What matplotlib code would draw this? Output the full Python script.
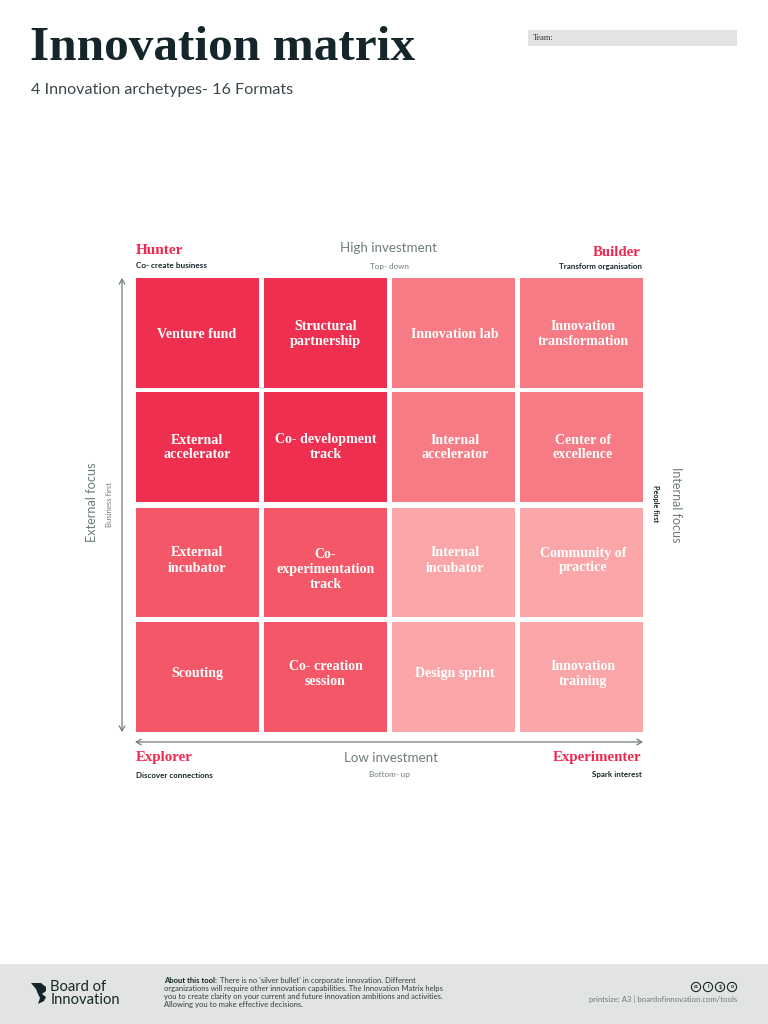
import matplotlib
matplotlib.use("Agg")
import matplotlib.pyplot as plt
from matplotlib.patches import Rectangle, Polygon, Circle

# matrix content, top row first
formats = [
    ["Venture fund", "Structural\npartnership", "Innovation lab", "Innovation\ntransformation"],
    ["External\naccelerator", "Co- development\ntrack", "Internal\naccelerator", "Center of\nexcellence"],
    ["External\nincubator", "Co-\nexperimentation\ntrack", "Internal\nincubator", "Community of\npractice"],
    ["Scouting", "Co- creation\nsession", "Design sprint", "Innovation\ntraining"],
]
levels = [
    [0, 0, 1, 1],
    [0, 0, 1, 1],
    [2, 2, 3, 3],
    [2, 2, 3, 3],
]
level_colors = ["#EE2F50", "#F67B84", "#F45767", "#FAA5A8"]

x_edges = [(136, 259), (264, 387), (392, 515), (520, 643)]
y_edges = [(278, 388), (392, 502), (508, 617), (622, 732)]
# the labels do not sit quite centred in the reference
row_shift = [1, 0.5, -2, -3]
col_shift = [-0.5, 0, 1.5, 1.5]

SERIF = "Liberation Serif"
SANS = "Lato"
DARK = "#14262A"
GREY = "#6E7B7D"
RED = "#F0284F"
PANEL = "#E2E4E1"

fig = plt.figure(figsize=(7.68, 10.24), dpi=100)
ax = fig.add_axes([0, 0, 1, 1])
ax.set_xlim(0, 768)
ax.set_ylim(1024, 0)
ax.axis("off")

# header
ax.text(30, 48, "Innovation matrix", family=SERIF, weight="bold", fontsize=35.5,
        color=DARK, va="center", ha="left")
ax.text(31, 90, "4 Innovation archetypes- 16 Formats", family=SANS, fontsize=11.6,
        color="#3A484B", va="center", ha="left")
ax.add_patch(Rectangle((528, 30), 209, 16, color=PANEL, lw=0))
ax.text(533, 37.5, "Team:", family=SERIF, fontsize=6, color="#333333", va="center")

# cells
for r, (y0, y1) in enumerate(y_edges):
    for c, (x0, x1) in enumerate(x_edges):
        label = formats[r][c]
        shift = row_shift[r]
        if label.count("\n") == 2:
            shift = 7
        ax.add_patch(Rectangle((x0, y0), x1 - x0, y1 - y0, color=level_colors[levels[r][c]], lw=0))
        ax.text((x0 + x1) / 2 + col_shift[c], (y0 + y1) / 2 + shift, label, family=SERIF, weight="bold",
                fontsize=10.1, color="white", ha="center", va="center", linespacing=1.2)

# archetypes
ax.text(136, 251, "Hunter", family=SERIF, weight="bold", fontsize=11, color=RED, va="center")
ax.text(641, 252, "Builder", family=SERIF, weight="bold", fontsize=10.7, color=RED, va="center", ha="right")
ax.text(136, 758, "Explorer", family=SERIF, weight="bold", fontsize=10.7, color=RED, va="center")
ax.text(641, 758, "Experimenter", family=SERIF, weight="bold", fontsize=10.7, color=RED, va="center", ha="right")

ax.text(136, 266, "Co- create business", family=SANS, weight="bold", fontsize=5.85, color=DARK, va="center")
ax.text(642, 266, "Transform organisation", family=SANS, weight="bold", fontsize=5.8, color=DARK, va="center", ha="right")
ax.text(136, 776, "Discover connections", family=SANS, weight="bold", fontsize=5.8, color=DARK, va="center")
ax.text(642, 775, "Spark interest", family=SANS, weight="bold", fontsize=5.8, color=DARK, va="center", ha="right")

# axis labels
ax.text(389, 248, "High investment", family=SANS, fontsize=9.6, color=GREY, ha="center", va="center")
ax.text(389, 266, "Top- down", family=SANS, fontsize=5.8, color=GREY, ha="center", va="center")
ax.text(390.5, 758, "Low investment", family=SANS, fontsize=9.6, color=GREY, ha="center", va="center")
ax.text(389, 775, "Bottom- up", family=SANS, fontsize=5.8, color=GREY, ha="center", va="center")
ax.text(92, 502, "External focus", family=SANS, fontsize=9.2, color=GREY, rotation=90, ha="center", va="center")
ax.text(109, 504.5, "Business first", family=SANS, fontsize=5.6, color=GREY, rotation=90, ha="center", va="center")
ax.text(676, 504.5, "Internal focus", family=SANS, fontsize=9, color=GREY, rotation=270, ha="center", va="center")
ax.text(656, 504, "People first", family=SANS, weight="bold", fontsize=5.2, color=DARK, rotation=270, ha="center", va="center")

# arrows
arrow = dict(arrowstyle="<->,head_length=0.35,head_width=0.2", color=GREY, lw=0.9, shrinkA=0, shrinkB=0)
ax.annotate("", xy=(122, 278), xytext=(122, 732), arrowprops=arrow)
ax.annotate("", xy=(135, 742), xytext=(643, 742), arrowprops=arrow)

# footer
ax.add_patch(Rectangle((0, 964), 768, 60, color=PANEL, lw=0))
ax.add_patch(Polygon([(31, 983), (41, 983), (46, 987), (46, 991), (42, 994), (46, 997), (44, 1001),
                      (38, 1004), (40, 998), (38, 994), (36, 989)], color=DARK, lw=0))
ax.text(50.5, 987, "Board of", family=SANS, fontsize=10.6, color=DARK, va="center")
ax.text(50.5, 999.5, "Innovation", family=SANS, fontsize=10.6, color=DARK, va="center")

ax.text(164, 980.5, "About this tool:", family=SANS, weight="bold", fontsize=5.5, color=DARK, va="center")
ax.text(220, 980.5, "There is no 'silver bullet' in corporate innovation. Different",
        family=SANS, fontsize=5.5, color="#33403F", va="center")
ax.text(164, 988.5, "organizations will require other innovation capabilities. The Innovation Matrix helps",
        family=SANS, fontsize=5.5, color="#33403F", va="center")
ax.text(164, 996.5, "you to create clarity on your current and future innovation ambitions and activities.",
        family=SANS, fontsize=5.5, color="#33403F", va="center")
ax.text(164, 1005, "Allowing you to make effective decisions.",
        family=SANS, fontsize=5.5, color="#33403F", va="center")

for cx, mark in zip((696, 708, 720, 732), ("cc", "i", "$", "o")):
    ax.add_patch(Circle((cx, 987), 4.6, fill=False, ec=DARK, lw=0.8))
    ax.text(cx, 987, mark, family=SANS, weight="bold", fontsize=4, color=DARK, ha="center", va="center")
ax.text(737, 999, "printsize: A3 | boardofinnovation.com/tools", family=SANS, fontsize=5.55,
        color=GREY, ha="right", va="center")

fig.savefig("out.png", dpi=100)
